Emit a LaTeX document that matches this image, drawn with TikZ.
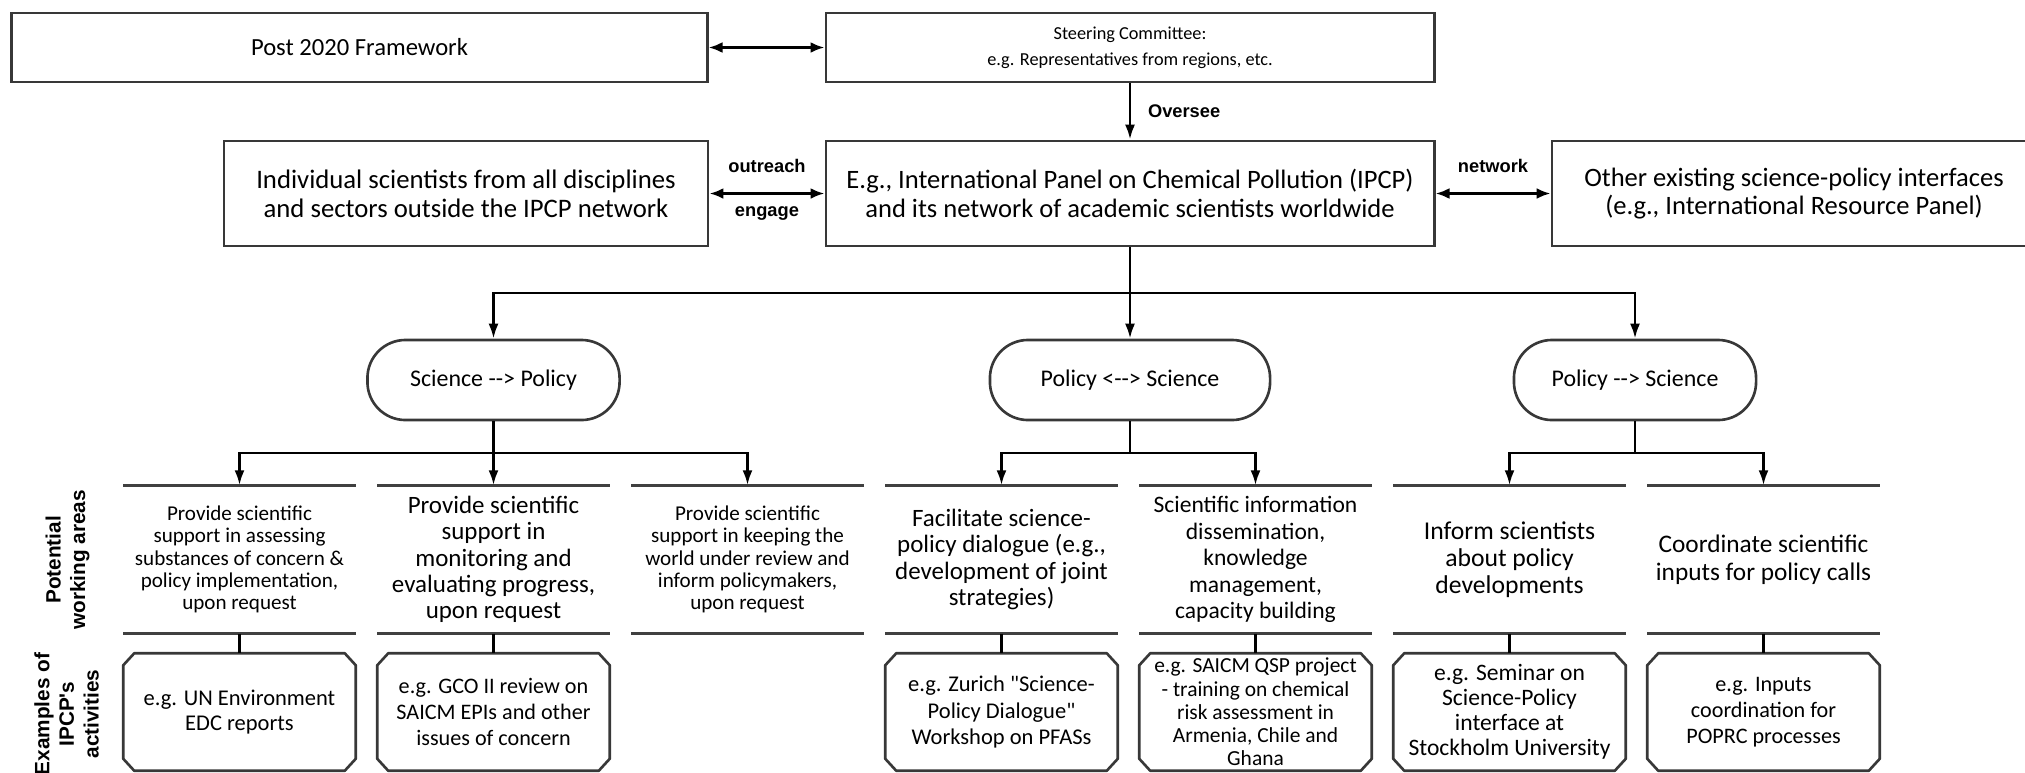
\documentclass[tikz,border=0pt]{standalone}
\usepackage{fontspec}
\setmainfont{Carlito}
\newfontfamily\labelfont{Liberation Sans}
\usepackage{tikz}
\usetikzlibrary{positioning, arrows.meta}
\newcommand{\sz}[2]{\fontsize{#1pt}{#2pt}\selectfont}
\newcommand{\twodash}{-\kern0pt-}
\newcommand{\qq}{\XeTeXglyph\XeTeXcharglyph"22\relax}

\begin{document}
\begin{tikzpicture}[x=0.01cm, y=-0.01cm,
    box/.style={rectangle, draw=black!78, line width=0.75pt, align=center, inner sep=0pt},
    term/.style={rectangle, rounded corners=0.38cm, draw=black!78, line width=0.75pt, align=center, minimum height=0.8cm, font=\sz{6.8}{8}},
    area/.style={rectangle, align=center, inner sep=0pt, minimum width=2.31cm, minimum height=1.47cm},
    example/.style={rectangle, align=center, inner sep=0pt, minimum width=2.31cm, minimum height=1.16cm},
    exline/.style={draw=black!78, line width=0.75pt, line join=round},
    both/.style={{Latex[length=0.14cm,width=0.11cm]}-{Latex[length=0.14cm,width=0.11cm]}, line width=0.9pt},
    arr/.style={-{Latex[length=0.15cm,width=0.1cm]}, line width=0.75pt},
    rule/.style={draw=black!75, line width=0.8pt},
    side/.style={font=\labelfont\bfseries\sz{5.2}{6}},
    rowlabel/.style={rotate=90, align=center, font=\labelfont\bfseries\sz{5.9}{7}},
  ]
  \useasboundingbox (0,0) rectangle (2025,772);

  % top rows
  \node[box, minimum width=6.95cm, minimum height=0.69cm, font=\sz{7}{8}] (post) at (359.5,47.5) {Post 2020 Framework};
  \node[box, minimum width=6.08cm, minimum height=0.69cm, font=\sz{5.2}{7.3}] (steer) at (1130,47.5) {Steering Committee:\\e.g. Representatives from regions, etc.};
  \node[box, minimum width=4.84cm, minimum height=1.05cm, font=\sz{7.6}{8.2}] (indiv) at (466,193.5) {Individual scientists from all disciplines\\and sectors outside the IPCP network};
  \node[box, minimum width=6.08cm, minimum height=1.05cm, font=\sz{7.55}{8.2}] (ipcp) at (1130,193.5) {E.g., International Panel on Chemical Pollution (IPCP)\\and its network of academic scientists worldwide};
  \node[box, minimum width=4.84cm, minimum height=1.05cm, font=\sz{7.55}{8.2}] (other) at (1794,193.5) {Other existing science-policy interfaces\\(e.g., International Resource Panel)};

  \draw[both] (post) -- (steer);
  \draw[arr] (steer) -- node[side, right=0.05cm] {Oversee} (ipcp);
  \draw[both] (indiv) -- node[side, above=0.075cm] {outreach} node[side, below=0pt] {engage} (ipcp);
  \draw[both] (ipcp) -- node[side, above=0.075cm] {network} (other);

  % directions
  \node[term, minimum width=2.52cm] (sp) at (493.5,380) {Science \twodash> Policy};
  \node[term, minimum width=2.8cm] (ps) at (1130,380) {Policy <\twodash> Science};
  \node[term, minimum width=2.42cm] (pts) at (1635,380) {Policy \twodash> Science};

  \coordinate (b0) at (1130,293);
  \draw[line width=0.75pt] (ipcp) -- (b0);
  \draw[arr] (b0) -| (sp);
  \draw[arr] (b0) -- (ps);
  \draw[arr] (b0) -| (pts);

  % potential working areas
  \node[area, font=\sz{6}{6.3}] (w1) at (239.5,559.5) {Provide scientific\\support in assessing\\substances of concern \&\\policy implementation,\\upon request};
  \node[area, font=\sz{7.1}{7.5}] (w2) at (493.5,559.5) {Provide scientific\\support in\\monitoring and\\evaluating progress,\\upon request};
  \node[area, font=\sz{6}{6.3}] (w3) at (747.5,559.5) {Provide scientific\\support in keeping the\\world under review and\\inform policymakers,\\upon request};
  \node[area, font=\sz{7.1}{7.5}] (w4) at (1001.5,559.5) {Facilitate science-\\policy dialogue (e.g.,\\development of joint\\strategies)};
  \node[area, font=\sz{6.7}{7.5}] (w5) at (1255.5,559.5) {Scientific information\\dissemination,\\knowledge\\management,\\capacity building};
  \node[area, font=\sz{7.3}{7.6}] (w6) at (1509.5,559.5) {Inform scientists\\about policy\\developments};
  \node[area, font=\sz{7.2}{7.9}] (w7) at (1763.5,559.5) {Coordinate scientific\\inputs for policy calls};
  \foreach \n in {1,...,7}
    \draw[rule] (w\n.north west) -- (w\n.north east) (w\n.south west) -- (w\n.south east);

  \coordinate (b1) at (493.5,453);
  \coordinate (b2) at (1130,453);
  \coordinate (b3) at (1635,453);
  \draw[line width=0.75pt] (sp) -- (b1);
  \draw[arr] (b1) -| (w1);
  \draw[arr] (b1) -- (w2);
  \draw[arr] (b1) -| (w3);
  \draw[line width=0.75pt] (ps) -- (b2);
  \draw[arr] (b2) -| (w4);
  \draw[arr] (b2) -| (w5);
  \draw[line width=0.75pt] (pts) -- (b3);
  \draw[arr] (b3) -| (w6);
  \draw[arr] (b3) -| (w7);

  % examples of activities
  \node[example, font=\sz{6.4}{7.1}] (e1) at (239.5,712) {e.g. UN Environment\\EDC reports};
  \node[example, font=\sz{6.3}{7.3}] (e2) at (493.5,712) {e.g. GCO II review on\\SAICM EPIs and other\\issues of concern};
  \node[example, font=\sz{6.4}{7.4}] (e4) at (1001.5,712) {e.g. Zurich \qq Science-\\Policy Dialogue\qq\\Workshop on PFASs};
  \node[example, font=\sz{6.1}{6.6}] (e5) at (1255.5,712) {e.g. SAICM QSP project\\- training on chemical\\risk assessment in\\Armenia, Chile and\\Ghana};
  \node[example, font=\sz{6.7}{7.1}] (e6) at (1509.5,712) {e.g. Seminar on\\Science-Policy\\interface at\\Stockholm University};
  \node[example, font=\sz{6.3}{7.4}] (e7) at (1763.5,712) {e.g. Inputs\\coordination for\\POPRC processes};
  \foreach \n in {1,2,4,5,6,7} {
    \draw[exline] ([xshift=0.11cm]e\n.north west) -- ([xshift=-0.11cm]e\n.north east)
      -- ([yshift=-0.12cm]e\n.north east) -- ([yshift=0.12cm]e\n.south east)
      -- ([xshift=-0.11cm]e\n.south east) -- ([xshift=0.11cm]e\n.south west)
      -- ([yshift=0.12cm]e\n.south west) -- ([yshift=-0.12cm]e\n.north west) -- cycle;
    \draw[line width=0.75pt] (w\n) -- (e\n);
  }

  % row labels
  \node[rowlabel] (pwa) at (67.5,560) {Potential\\working areas};
  \node[rowlabel] (ipa) at (66.5,714) {Examples of\\IPCP's\\activities};
\end{tikzpicture}
\end{document}
